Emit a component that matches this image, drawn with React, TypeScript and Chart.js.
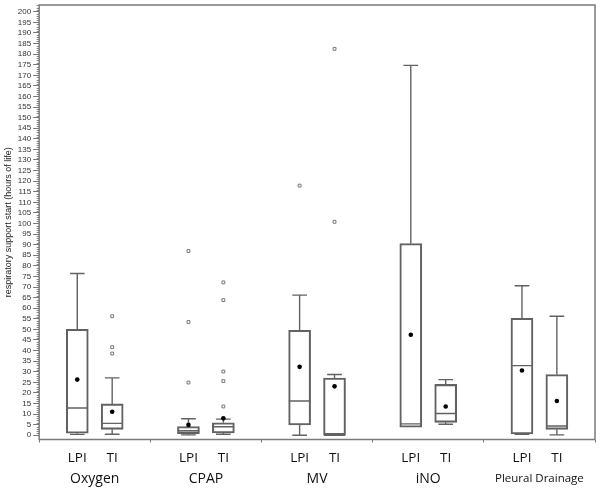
import React, { useEffect, useRef } from 'react';
import { Chart, registerables } from 'chart.js';
Chart.register(...registerables);

// Groups and sub-groups
const groups = ['Oxygen', 'CPAP', 'MV', 'iNO', 'Pleural Drainage'];
const subgroups = ['LPI', 'TI'];

// Box order: Oxygen LPI, Oxygen TI, CPAP LPI, CPAP TI, MV LPI, MV TI, iNO LPI, iNO TI, PD LPI, PD TI
const whiskerLow = [0.4, 0.5, 0.2, 0.5, 0, 0, 3.8, 5.2, 0.5, 0.2];
const q1 = [1.0, 2.8, 0.8, 1.1, 4.9, 0, 3.8, 6.1, 0.6, 2.8];
const median = [12.9, 5.6, 2.1, 4.0, 16.2, 0, 5.4, 10.3, 32.9, 4.4];
const q3 = [50.0, 14.8, 4.1, 5.9, 49.6, 27.0, 90.5, 24.0, 55.2, 28.7];
const whiskerHigh = [76.4, 27.1, 7.8, 7.6, 66.2, 28.7, 174.7, 26.3, 70.6, 56.2];
const means = [26.3, 11.1, 4.9, 8.0, 32.3, 23.1, 47.5, 13.6, 30.6, 16.2];
const outliers: number[][] = [
  [],
  [56.2, 41.6, 38.6],
  [87.0, 53.5, 24.9],
  [72.2, 63.8, 30.1, 25.6, 13.6],
  [117.9],
  [182.5, 100.8],
  [],
  [],
  [],
  [],
];

const yMin = -2;
const yMax = 203.2;
const majorStep = 5;

const groupOffset = 0.157;
const capHalf = 0.066;
const boxHalf = 0.097;
const LINE = '#626262';

function boxX(i: number) {
  const g = Math.floor(i / 2);
  return g + 1 + (i % 2 === 0 ? -groupOffset : groupOffset);
}

export default function App() {
  const ref = useRef<HTMLCanvasElement>(null);
  useEffect(() => {
    if (!ref.current) return;
    const n = q1.length;
    const xs = Array.from({ length: n }, (_, i) => boxX(i));

    const boxes = xs.map((x, i) => ({ x, y: [q1[i], q3[i]] }));
    const segs: any[] = [];
    const gap = (x: number) => segs.push({ x, y: null });
    xs.forEach((x, i) => {
      segs.push({ x, y: q3[i] }, { x, y: whiskerHigh[i] }); gap(x);
      segs.push({ x: x - capHalf, y: whiskerHigh[i] }, { x: x + capHalf, y: whiskerHigh[i] }); gap(x);
      if (whiskerLow[i] < q1[i]) {
        segs.push({ x, y: q1[i] }, { x, y: whiskerLow[i] }); gap(x);
        segs.push({ x: x - capHalf, y: whiskerLow[i] }, { x: x + capHalf, y: whiskerLow[i] }); gap(x);
      }
      segs.push({ x: x - boxHalf, y: median[i] }, { x: x + boxHalf, y: median[i] }); gap(x);
    });
    const meanPts = xs.map((x, i) => ({ x, y: means[i] }));
    const outPts: any[] = [];
    xs.forEach((x, i) => outliers[i].forEach((v) => outPts.push({ x, y: v })));

    const framePlugin = {
      id: 'frameAndLabels',
      afterDraw(chart: any) {
        const { ctx, chartArea } = chart;
        const ys = chart.scales.y;
        const xsc = chart.scales.x;
        ctx.save();
        // minor ticks
        ctx.strokeStyle = '#888';
        ctx.lineWidth = 1;
        for (let v = 0; v <= 203; v++) {
          if (v % majorStep === 0) continue;
          const py = Math.round(ys.getPixelForValue(v)) + 0.5;
          ctx.beginPath();
          ctx.moveTo(chartArea.left - 2.5, py);
          ctx.lineTo(chartArea.left, py);
          ctx.stroke();
        }
        // frame
        ctx.strokeStyle = '#7a7a7a';
        ctx.lineWidth = 1.5;
        ctx.strokeRect(chartArea.left, chartArea.top, chartArea.right - chartArea.left, chartArea.bottom - chartArea.top);
        // labels
        ctx.fillStyle = '#111';
        ctx.textAlign = 'center';
        ctx.textBaseline = 'middle';
        xs.forEach((x, i) => {
          ctx.font = '13.5px "Open Sans"';
          ctx.fillText(subgroups[i % 2], xsc.getPixelForValue(x), 458);
        });
        groups.forEach((g, k) => {
          ctx.font = g.length > 10 ? '11.5px "Open Sans"' : '14px "Open Sans"';
          ctx.fillText(g, xsc.getPixelForValue(k + 1), 479);
        });
        ctx.restore();
      },
    };

    const chart = new Chart(ref.current, {
      type: 'bar',
      data: {
        datasets: [
          {
            type: 'bar',
            data: boxes as any,
            backgroundColor: 'rgba(255,255,255,0)',
            borderColor: LINE,
            borderWidth: 1.4,
            borderSkipped: false,
            barThickness: 22,
            order: 4,
          } as any,
          {
            type: 'line',
            data: segs,
            borderColor: LINE,
            borderWidth: 1.4,
            pointRadius: 0,
            spanGaps: false,
            fill: false,
            order: 3,
          } as any,
          {
            type: 'scatter',
            data: outPts,
            pointStyle: 'rect',
            pointRadius: 2,
            borderColor: '#777',
            borderWidth: 1,
            backgroundColor: '#fff',
            order: 2,
          } as any,
          {
            type: 'scatter',
            data: meanPts,
            pointStyle: 'circle',
            pointRadius: 2.3,
            borderWidth: 0,
            backgroundColor: '#000',
            order: 1,
          } as any,
        ],
      },
      options: {
        animation: false,
        responsive: false,
        layout: { padding: { top: 3, right: 3, bottom: 46.5, left: 3 } },
        plugins: { legend: { display: false }, tooltip: { enabled: false } },
        scales: {
          x: {
            type: 'linear',
            min: 0.5,
            max: 5.5,
            offset: false,
            border: { display: false },
            grid: { display: true, drawOnChartArea: false, drawTicks: true, tickLength: 3, color: '#777', offset: false },
            ticks: { display: false, stepSize: 1 },
          },
          y: {
            type: 'linear',
            min: yMin,
            max: yMax,
            border: { display: false },
            grid: { display: true, drawOnChartArea: false, drawTicks: true, tickLength: 6, color: '#777' },
            ticks: {
              stepSize: majorStep,
              includeBounds: false,
              autoSkip: false,
              padding: 2,
              color: '#333',
              font: { family: '"Liberation Sans", Arial', size: 8, lineHeight: 0.5 },
              callback: (v: any) => (Number(v) % majorStep === 0 ? String(v) : ''),
            },
            title: {
              display: true,
              text: 'respiratory support start (hours of life)',
              color: '#222',
              font: { family: '"Liberation Sans", Arial', size: 9 },
              padding: { top: 0, bottom: 2 },
            },
          },
        },
      } as any,
      plugins: [framePlugin],
    });
    return () => chart.destroy();
  }, []);

  return (
    <div style={{ position: 'absolute', left: 0, top: 0, width: 600, height: 489, background: '#fff' }}>
      <canvas ref={ref} width={600} height={489} style={{ width: 600, height: 489 }} />
    </div>
  );
}
